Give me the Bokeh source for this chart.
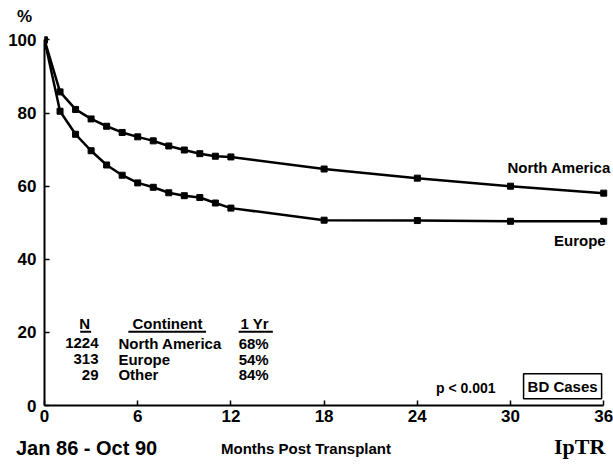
from bokeh.plotting import figure
from bokeh.layouts import column
from bokeh.models import Range1d, Label, ColumnDataSource, FixedTicker, Div
from bokeh.core.properties import value
from bokeh.embed import file_html
from bokeh.resources import INLINE

# Survival by continent, months post transplant
months = [0, 1, 2, 3, 4, 5, 6, 7, 8, 9, 10, 11, 12, 18, 24, 30, 36]
north_america = [100, 85.8, 81.0, 78.4, 76.4, 74.7, 73.5, 72.4, 71.0, 69.9, 68.9, 68.2, 68.0, 64.7, 62.2, 60.0, 58.1]
europe = [100, 80.5, 74.2, 69.7, 65.8, 63.0, 60.9, 59.7, 58.2, 57.4, 56.9, 55.4, 54.0, 50.7, 50.6, 50.4, 50.4]

x_ticks = [0, 6, 12, 18, 24, 30, 36]
y_ticks = [0, 20, 40, 60, 80, 100]

# Summary table
table_n = ["1224", "313", "29"]
table_continent = ["North America", "Europe", "Other"]
table_one_year = ["68%", "54%", "84%"]

FONT = "Liberation Sans"
W = 613
TOP_H, BOTTOM_H = 26, 36


def add_label(fig, x, y, text, size, align="left", font=FONT, **kw):
    fig.add_layout(Label(x=x, y=y, text=text, text_font=font, text_font_size=size,
                         text_font_style="bold", text_color="black",
                         text_align=align, text_baseline="middle", **kw))


def text_strip(height, items):
    """A row of absolutely placed texts: (left, top, size, family, text)."""
    spans = "".join(
        f'<span style="position:absolute;left:{x}px;top:{y}px;font-weight:bold;'
        f'font-size:{s}px;font-family:\'{f}\';line-height:1;white-space:nowrap;color:black">{t}</span>'
        for x, y, s, f, t in items
    )
    html = f'<div style="position:relative;width:{W}px;height:{height}px;">{spans}</div>'
    return Div(text=html, width=W, height=height, margin=(0, 0, 0, 0))


# Main chart
p = figure(
    width=W, height=8 + 371 + 28,
    frame_width=567, frame_height=371,
    min_border_left=44, min_border_right=2, min_border_top=8, min_border_bottom=28,
    x_range=Range1d(0, 36.5), y_range=Range1d(0, 101.5),
    output_backend="svg", toolbar_location=None,
)
p.outline_line_color = None
p.grid.grid_line_color = None

for ax in (p.xaxis[0], p.yaxis[0]):
    ax.axis_line_width = 2
    ax.axis_line_color = "black"
    ax.major_tick_in = 5
    ax.major_tick_out = 0
    ax.major_tick_line_width = 1.5
    ax.minor_tick_line_color = None
    ax.major_label_text_font = FONT
    ax.major_label_text_font_style = "bold"
    ax.major_label_text_font_size = "17px"
    ax.major_label_text_color = "black"

p.xaxis.ticker = FixedTicker(ticks=x_ticks)
p.yaxis.ticker = FixedTicker(ticks=y_ticks)
p.xaxis.bounds = (0, 36)
p.yaxis.bounds = (0, 100)
p.xaxis.major_label_standoff = 4
p.yaxis.major_label_standoff = 8

src = ColumnDataSource(dict(m=months, na=north_america, eu=europe))
for col in ("na", "eu"):
    p.line("m", col, source=src, line_color="black", line_width=2.5)
    p.scatter("m", col, source=src, marker="square", size=6,
              fill_color="black", line_color="black")

add_label(p, 29.8, 65.2, "North America", "15px")
add_label(p, 32.8, 45.2, "Europe", "15px")
add_label(p, 25.2, 4.9, "p < 0.001", "14px")
add_label(p, 30.84, 5.3, "BD Cases", "15px",
          border_line_color="black", border_line_width=1.5,
          background_fill_color="white", padding=4)

# Table headers with underlines
add_label(p, 2.58, 22.5, "N", "15px", align="center")
add_label(p, 7.92, 22.5, "Continent", "15px", align="center")
add_label(p, 12.62, 22.5, "1 Yr", "15px")
p.segment(x0=[2.3, 5.4, 12.5], y0=[20.2] * 3, x1=[3.0, 10.4, 14.7], y1=[20.2] * 3,
          line_color="black", line_width=2)

row_y = [17.0, 12.7, 8.4]
tsrc = ColumnDataSource(dict(y=row_y, n=table_n, c=table_continent, o=table_one_year))
common = dict(text_font=value(FONT), text_font_style="bold", text_font_size="15px",
              text_color="black", text_baseline="middle")
p.text(x=3.48, y="y", text="n", source=tsrc, text_align="right", **common)
p.text(x=4.76, y="y", text="c", source=tsrc, text_align="left", **common)
p.text(x=12.5, y="y", text="o", source=tsrc, text_align="left", **common)

# Axis unit above the chart
top = text_strip(TOP_H, [(17, 8, 17, FONT, "%")])

# Date span, axis title and registry mark below the chart
bottom = text_strip(BOTTOM_H, [
    (16, 5, 20, FONT, "Jan 86 - Oct 90"),
    (221, 8, 15, FONT, "Months Post Transplant"),
    (554, 3, 22, "Liberation Serif", "IpTR"),
])

layout = column(top, p, bottom, spacing=0)
open("out.html", "w").write(file_html(layout, INLINE))
